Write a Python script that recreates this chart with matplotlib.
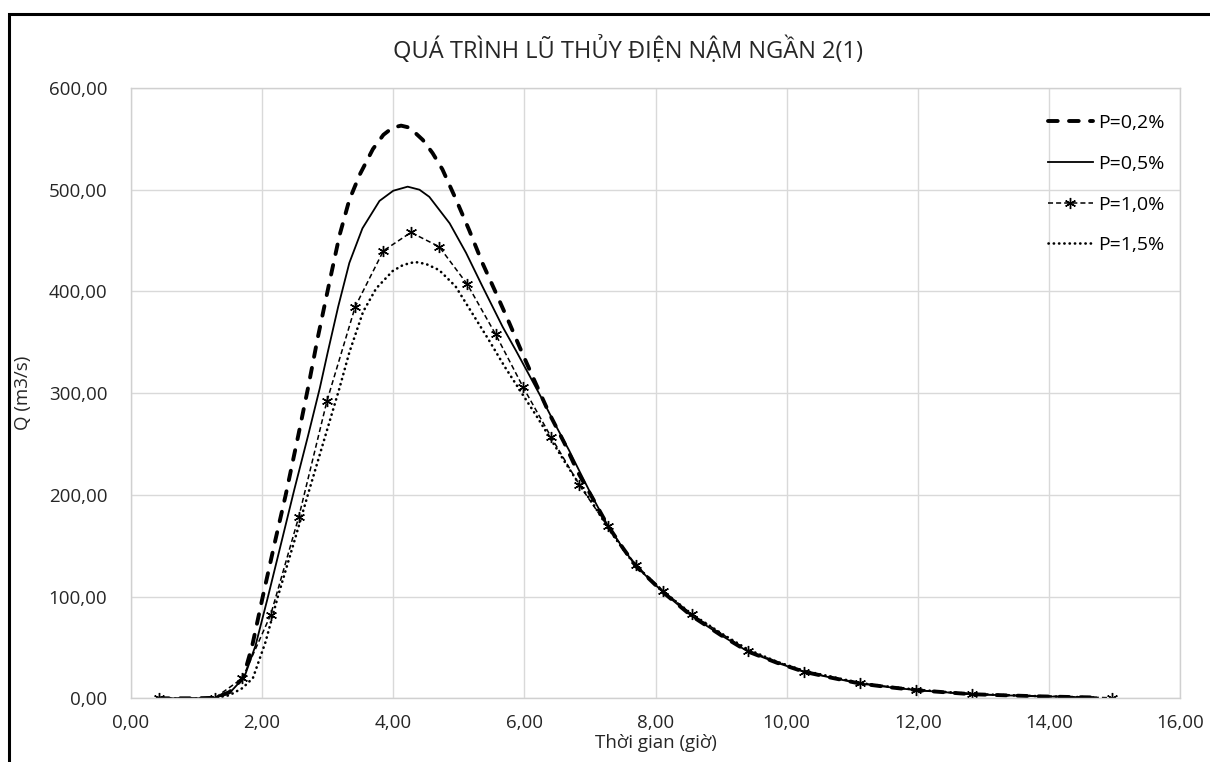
import numpy as np
import matplotlib
matplotlib.use("Agg")
import matplotlib.pyplot as plt
from matplotlib.patches import Rectangle
from matplotlib.ticker import FuncFormatter, MultipleLocator

plt.rcParams['font.family'] = ['Open Sans', 'DejaVu Sans']

# P=0,2%
t_02 = [0.43, 1.00, 1.28, 1.50, 1.71, 1.85, 2.01, 2.20, 2.36, 2.55, 2.70, 2.85, 3.03, 3.18,
        3.33, 3.49, 3.69, 3.85, 3.99, 4.12, 4.25, 4.45, 4.60, 4.75, 4.96, 5.16, 5.36, 5.57,
        5.77, 5.97, 6.17, 6.38, 6.61, 6.81, 7.03, 7.27, 7.50, 7.70, 8.12, 8.55, 9.00, 9.41,
        9.85, 10.27, 10.70, 11.12, 11.55, 11.98, 12.40, 12.83, 13.30, 13.80, 14.30, 14.72]
q_02 = [0, 0, 0.5, 6, 20, 52, 100, 155, 200, 258, 305, 355, 410, 455,
        490, 515, 540, 554, 561, 563, 561, 549, 536, 520, 490, 460, 428, 398,
        369, 339, 310, 280, 251, 223, 198, 170, 148, 130, 104, 81, 62, 46,
        35, 26, 20, 14.5, 11, 8, 6, 4, 3, 2, 1.3, 0.8]

# P=0,5%
t_05 = [0.43, 1.00, 1.28, 1.50, 1.73, 1.90, 2.09, 2.30, 2.49, 2.70, 2.88, 3.00, 3.16, 3.33,
        3.53, 3.79, 4.00, 4.22, 4.40, 4.55, 4.86, 5.11, 5.36, 5.67, 5.87, 6.08, 6.28, 6.48,
        6.68, 6.85, 7.03, 7.27, 7.50, 7.70, 8.12, 8.55, 9.00, 9.41, 9.85, 10.27, 10.70, 11.12,
        11.55, 11.98, 12.40, 12.83, 13.30, 13.80, 14.30, 14.72]
q_05 = [0, 0, 0.5, 5, 21, 52, 100, 155, 205, 258, 305, 340, 385, 428,
        462, 489, 499, 503, 500, 493, 467, 438, 405, 365, 342, 317, 293, 268,
        244, 222, 199, 170, 148, 130, 104, 81, 62, 46, 35, 26, 20, 14.5,
        11, 8, 6, 4, 3, 2, 1.3, 0.8]

# P=1,0% (co diem danh dau)
t_10 = [0.43, 1.28, 1.70, 2.13, 2.56, 2.99, 3.42, 3.85, 4.27, 4.70, 5.13, 5.56, 5.98,
        6.41, 6.84, 7.27, 7.70, 8.12, 8.55, 9.41, 10.27, 11.12, 11.98, 12.83, 14.97]
q_10 = [0, 0.5, 19.7, 82, 178.6, 292.6, 385, 440, 458, 444, 407, 358, 306,
        256.6, 209.7, 169, 131, 105.5, 82.6, 46.8, 26, 15, 8, 4, 0.5]

# P=1,5%
t_15 = [0.43, 1.00, 1.28, 1.50, 1.70, 1.86, 2.05, 2.24, 2.48, 2.72, 2.95, 3.18, 3.33, 3.54,
        3.74, 3.99, 4.15, 4.33, 4.50, 4.70, 4.95, 5.20, 5.46, 5.70, 5.98, 6.20, 6.41, 6.62,
        6.84, 7.03, 7.27, 7.50, 7.70, 8.12, 8.55, 9.00, 9.41, 9.85, 10.27, 10.70, 11.12,
        11.55, 11.98, 12.40, 12.83, 13.30, 13.80, 14.30, 14.72]
q_15 = [0, 0, 0.3, 3, 10, 20, 55, 100, 152, 205, 255, 305, 340, 380,
        403, 420, 426, 429, 427, 421, 405, 379, 352, 326, 298, 276, 254, 232,
        210, 193, 168, 147, 130, 105, 83, 64, 48, 36, 27, 21, 15,
        11.5, 8.5, 6.3, 4.3, 3.2, 2.2, 1.4, 0.9]

labels = ['P=0,2%', 'P=0,5%', 'P=1,0%', 'P=1,5%']

fig = plt.figure(figsize=(12.1, 7.62), dpi=100)
ax = fig.add_axes([131/1210, 1 - 698.3/762, (1180 - 131)/1210, (698.3 - 88)/762])

ax.plot(t_02, q_02, color='black', lw=2.8, dashes=(2.5, 2.9),
        dash_capstyle='round', label=labels[0])
ax.plot(t_05, q_05, color='black', lw=1.3, label=labels[1])
ax.plot(t_10, q_10, color='black', lw=1.1, dashes=(3.3, 2.0),
        marker=(6, 2, 0), markersize=8, markeredgewidth=1.0, label=labels[2])
ax.plot(t_15, q_15, color='black', lw=1.9, dashes=(0.1, 1.9),
        dash_capstyle='round', label=labels[3])

ax.set_xlim(0, 16)
ax.set_ylim(0, 600)
ax.xaxis.set_major_locator(MultipleLocator(2))
ax.yaxis.set_major_locator(MultipleLocator(100))
fmt = FuncFormatter(lambda v, p: f"{v:.2f}".replace('.', ','))
ax.xaxis.set_major_formatter(fmt)
ax.yaxis.set_major_formatter(fmt)
ax.grid(True, color='#d9d9d9', lw=1)
ax.set_axisbelow(True)
for s in ax.spines.values():
    s.set_color('#d0d0d0')
    s.set_linewidth(1)
ax.tick_params(length=0, labelsize=13.5, colors='#262626')
ax.tick_params(axis='y', pad=17)
ax.tick_params(axis='x', pad=11)

ax.set_xlabel('Thời gian (giờ)', fontsize=13.5, color='#262626', labelpad=2)
ax.set_ylabel('Q (m3/s)', fontsize=13.5, color='#262626', labelpad=12)

fig.text(628/1210, 1 - 50/762, 'QUÁ TRÌNH LŨ THỦY ĐIỆN NẬM NGẦN 2(1)',
         ha='center', va='center', fontsize=17, color='#262626')

fig.legend(loc='upper right', bbox_to_anchor=(1165/1210, 1 - 114/762), frameon=False,
           fontsize=14, handlelength=2.3, handletextpad=0.3, labelspacing=1.17,
           borderpad=0, borderaxespad=0)

# khung bieu do
fig.patches.append(Rectangle((9/1210, -0.2), 1.5, 1.2 - 14/762, transform=fig.transFigure,
                             fill=False, ec='black', lw=2.2))

fig.savefig('out.png', dpi=100)
